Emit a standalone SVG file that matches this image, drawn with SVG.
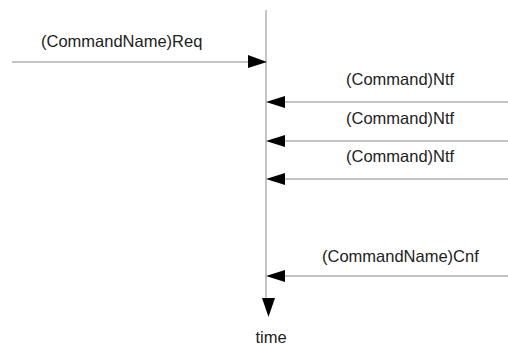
<svg xmlns="http://www.w3.org/2000/svg" width="508" height="345" viewBox="0 0 508 345">
  <style>
    .lbl { font-family: "Liberation Sans", Arial, sans-serif; font-size: 16.5px; fill: #222; }
    .msg { stroke: #888; stroke-width: 1.2; fill: none; }
    .life { stroke: #b0b0b0; stroke-width: 1.5; fill: none; }
    .head { fill: #000; }
  </style>
  <rect width="508" height="345" fill="#fff"/>

  <!-- time axis -->
  <g id="timeline">
    <line class="life" x1="266" y1="10" x2="266" y2="300"/>
    <polygon class="head" points="262,298 275,298 268.5,317"/>
    <text class="lbl" x="271" y="343" text-anchor="middle">time</text>
  </g>

  <!-- message connectors -->
  <g id="connectors">
    <line class="msg" x1="12" y1="62" x2="250" y2="62"/>
    <polygon class="head" points="248,55 248,68 267,62"/>

    <line class="msg" x1="284" y1="102" x2="508" y2="102"/>
    <polygon class="head" points="266,102 285,96 285,108"/>

    <line class="msg" x1="284" y1="141" x2="508" y2="141"/>
    <polygon class="head" points="266,141 285,135 285,147"/>

    <line class="msg" x1="284" y1="179" x2="508" y2="179"/>
    <polygon class="head" points="266,179 285,173 285,185"/>

    <line class="msg" x1="284" y1="276" x2="508" y2="276"/>
    <polygon class="head" points="266,276 285,270 285,282"/>
  </g>

  <g id="req"><text class="lbl" x="41" y="47">(CommandName)Req</text></g>
  <g id="ntf1"><text class="lbl" x="346" y="85">(Command)Ntf</text></g>
  <g id="ntf2"><text class="lbl" x="346" y="124">(Command)Ntf</text></g>
  <g id="ntf3"><text class="lbl" x="346" y="162">(Command)Ntf</text></g>
  <g id="cnf"><text class="lbl" x="322" y="262">(CommandName)Cnf</text></g>
</svg>
